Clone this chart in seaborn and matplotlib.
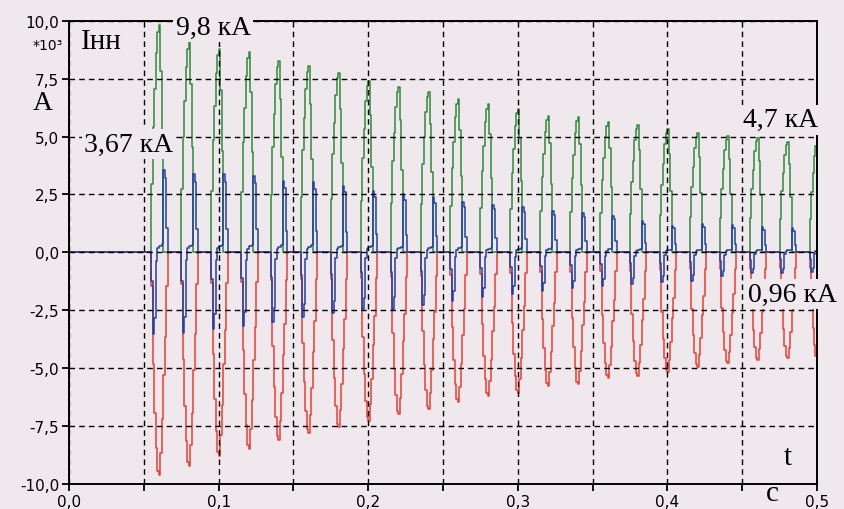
import numpy as np
import pandas as pd
import seaborn as sns
import matplotlib.pyplot as plt
from matplotlib.ticker import MultipleLocator, FuncFormatter

# start of each 50 Hz inrush cycle, s
cycle_start = [0.054, 0.074, 0.094, 0.114, 0.134, 0.154, 0.174, 0.194,
               0.214, 0.234, 0.254, 0.274, 0.294, 0.314, 0.334, 0.354,
               0.374, 0.394, 0.414, 0.434, 0.454, 0.474, 0.494]

# peak values per cycle, *10^3 A
green_peak = [9.8, 9.07, 8.78, 8.63, 8.27, 8.03, 7.74, 7.41, 7.13, 6.9, 6.62, 6.4,
              6.19, 5.9, 5.84, 5.64, 5.5, 5.32, 5.14, 5.01, 4.95, 4.78, 4.75]
red_peak = [-9.62, -9.24, -8.78, -8.47, -8.09, -7.8, -7.56, -7.27, -6.98, -6.77, -6.45, -6.19,
            -6.08, -5.76, -5.69, -5.42, -5.32, -5.18, -4.93, -4.78, -4.65, -4.58, -4.55]
blue_pos = [3.55, 3.38, 3.38, 3.31, 3.09, 3.02, 2.88, 2.66, 2.52, 2.39, 2.19, 2.06,
            1.95, 1.8, 1.7, 1.58, 1.37, 1.15, 1.22, 1.18, 1.08, 1.04, 1.0]
blue_neg = [-3.53, -3.48, -3.31, -3.2, -3.0, -2.81, -2.63, -2.45, -2.43, -2.28, -2.09, -1.94,
            -1.8, -1.66, -1.55, -1.44, -1.37, -1.3, -1.22, -1.01, -0.9, -0.88, -0.86]

# pulse shape within one cycle, sampled every 1 ms (normalised)
offset_ms = [0, 1, 2, 3, 4, 5, 6, 7, 8, 9, 10, 11, 12]
green_shape = [0, 0.3, 0.55, 0.72, 0.88, 0.97, 1.0, 0.8, 0.5, 0, 0, 0, 0]
red_shape = [0, 0.15, 0.5, 0.72, 0.88, 0.98, 1.0, 0.9, 0.75, 0.55, 0.38, 0.15, 0]
blue_neg_shape = [0, 0.35, 1.0, 0.8, 0.1, 0, 0, 0, 0, 0, 0, 0, 0]
blue_pos_shape = [0, 0, 0, 0, 0, 0.05, 0.08, 0.08, 0.1, 1.0, 0.9, 0.3, 0]

bg = '#efe8ed'
colors = {'g': '#2f8a3c', 'r': '#ef3b30', 'b': '#1f3fa3'}


def build(name):
    ts, vs = [0.0], [0.0]
    for k, t0 in enumerate(cycle_start):
        for i, off in enumerate(offset_ms):
            if name == 'g':
                v = green_peak[k] * green_shape[i]
            elif name == 'r':
                v = red_peak[k] * red_shape[i]
            else:
                v = blue_neg[k] * blue_neg_shape[i] + blue_pos[k] * blue_pos_shape[i]
            ts.append(t0 + off / 1000)
            vs.append(v)
    return pd.DataFrame({'t': ts, 'I': vs, 'phase': name})


df = pd.concat([build('g'), build('r'), build('b')], ignore_index=True)

sns.set_style('ticks')
fig = plt.figure(figsize=(8.44, 5.10), dpi=100)
fig.patch.set_facecolor(bg)
ax = fig.add_axes([0.0818, 0.049, 0.968 - 0.0818, 0.9575 - 0.049])
ax.set_facecolor(bg)

sns.lineplot(data=df, x='t', y='I', hue='phase', hue_order=['g', 'r', 'b'],
             palette=colors, estimator=None, sort=False, drawstyle='steps-post',
             linewidth=1.1, legend=False, ax=ax)

ax.set_xlim(0, 0.5)
ax.set_ylim(-10, 10)
ax.xaxis.set_major_locator(MultipleLocator(0.05))
ax.yaxis.set_major_locator(MultipleLocator(2.5))


def xfmt(v, pos):
    if abs(round(v * 10) - v * 10) > 1e-6:
        return ''
    return f'{v:.1f}'.replace('.', ',')


ax.xaxis.set_major_formatter(FuncFormatter(xfmt))
ax.yaxis.set_major_formatter(FuncFormatter(lambda v, p: f'{v:.1f}'.replace('.', ',')))
ax.tick_params(direction='out', length=5, width=1.3, labelsize=11, pad=2,
               colors='black')
ax.set_xlabel('')
ax.set_ylabel('')
ax.grid(True, color='black', linestyle=(0, (4, 3)), linewidth=1.0, zorder=4)
ax.set_axisbelow(False)
for s in ax.spines.values():
    s.set_color('black')
    s.set_linewidth(1.4)
    s.set_zorder(6)

serif = ['Liberation Serif', 'DejaVu Serif']
box = dict(boxstyle='square,pad=0.08', fc=bg, ec='none')
ax.text(0.0963, 9.73, '9,8 кА', family=serif, fontsize=20, ha='center', va='center',
        color='black', bbox=box, zorder=7, clip_on=False)
ax.text(0.0398, 4.68, '3,67 кА', family=serif, fontsize=20, ha='center', va='center',
        color='black', bbox=box, zorder=7)
ax.text(0.4756, 5.72, '4,7 кА', family=serif, fontsize=20, ha='center', va='center',
        color='black', bbox=box, zorder=7, clip_on=False)
ax.text(0.4836, -1.8, '0,96 кА', family=serif, fontsize=20, ha='center', va='center',
        color='black', bbox=box, zorder=7, clip_on=False)
ax.text(0.0214, 9.14, 'Iнн', family=serif, fontsize=21, ha='center', va='center',
        color='black', zorder=7)
ax.text(0.4806, -8.84, 't', family=serif, fontsize=21, ha='center', va='center',
        color='black', zorder=7)
ax.text(0.47, -10.38, 'c', family=serif, fontsize=21, ha='center', va='center',
        color='black', clip_on=False)
fig.text(0.051, 0.798, 'A', family=serif, fontsize=20, ha='center', va='center',
         color='black')
fig.text(0.057, 0.91, '*10³', fontsize=10, ha='center', va='center', color='black')

fig.savefig('out.png', dpi=100, facecolor=bg)
